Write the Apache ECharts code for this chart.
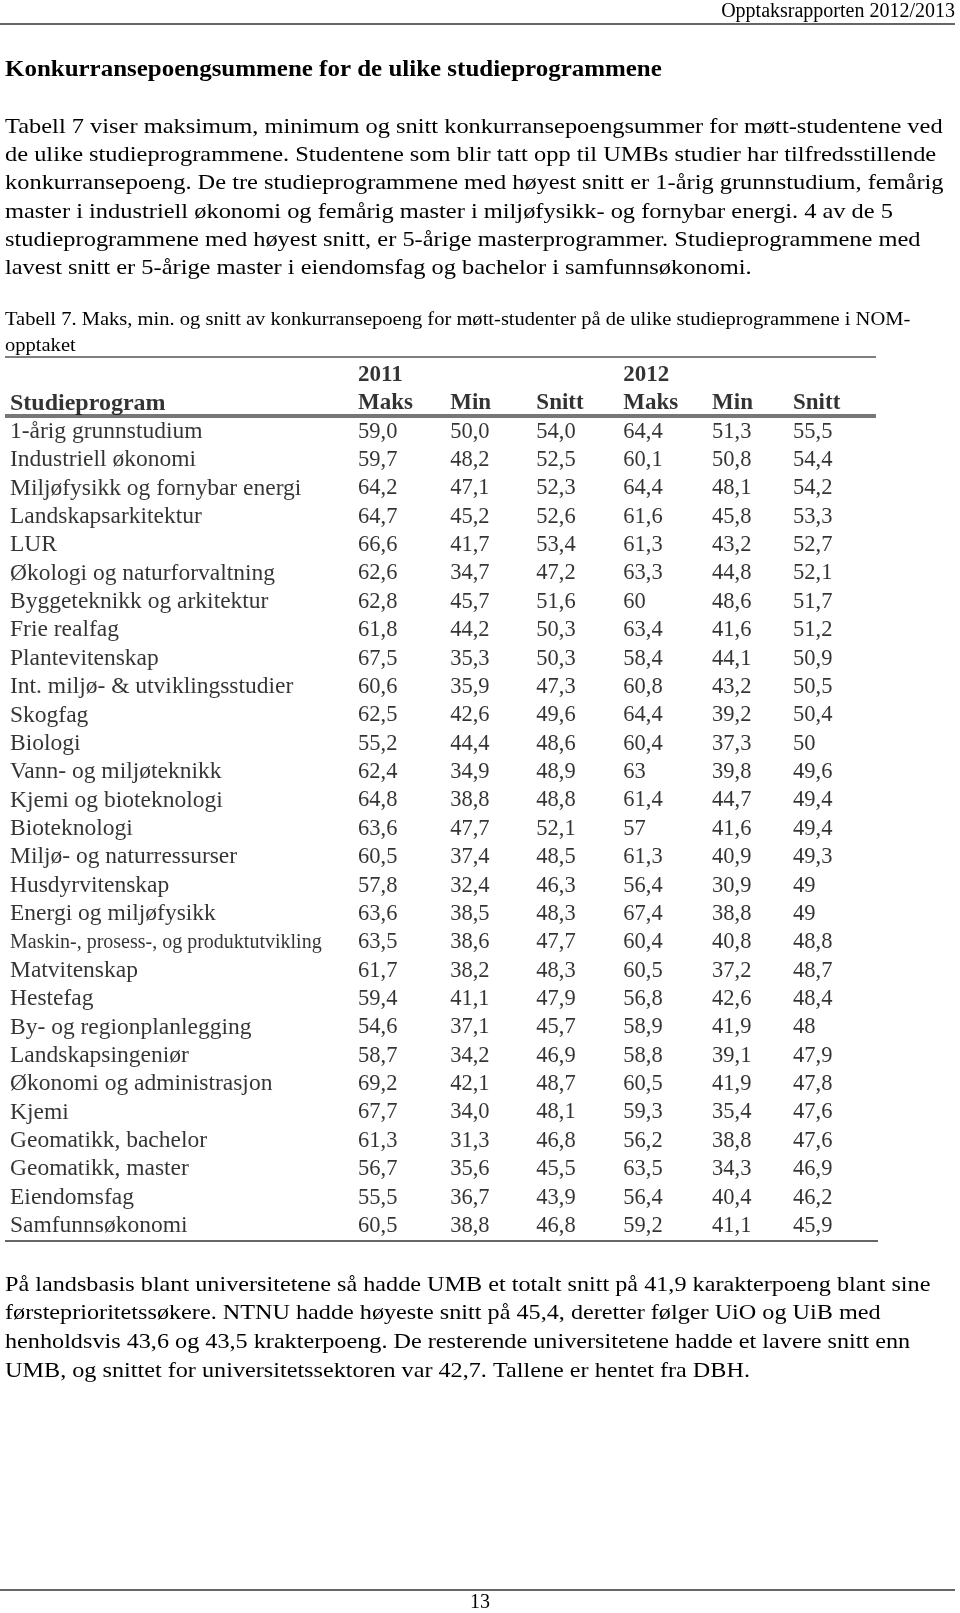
<!DOCTYPE html>
<html>
<head>
<meta charset="utf-8">
<script src="https://cdn.jsdelivr.net/npm/echarts@6/dist/echarts.min.js"></script>
<style>
  html, body { margin: 0; padding: 0; background: #fff; }
  #chart { width: 960px; height: 1613px; }
</style>
</head>
<body>
<div id="chart"></div>
<script>
// table data
var programs = [
  '1-årig grunnstudium', 'Industriell økonomi', 'Miljøfysikk og fornybar energi',
  'Landskapsarkitektur', 'LUR', 'Økologi og naturforvaltning', 'Byggeteknikk og arkitektur',
  'Frie realfag', 'Plantevitenskap', 'Int. miljø- & utviklingsstudier', 'Skogfag', 'Biologi',
  'Vann- og miljøteknikk', 'Kjemi og bioteknologi', 'Bioteknologi', 'Miljø- og naturressurser',
  'Husdyrvitenskap', 'Energi og miljøfysikk', 'Maskin-, prosess-, og produktutvikling',
  'Matvitenskap', 'Hestefag', 'By- og regionplanlegging', 'Landskapsingeniør',
  'Økonomi og administrasjon', 'Kjemi', 'Geomatikk, bachelor', 'Geomatikk, master',
  'Eiendomsfag', 'Samfunnsøkonomi'
]
var maks2011 = ['59,0','59,7','64,2','64,7','66,6','62,6','62,8','61,8','67,5','60,6','62,5','55,2','62,4','64,8','63,6','60,5','57,8','63,6','63,5','61,7','59,4','54,6','58,7','69,2','67,7','61,3','56,7','55,5','60,5']
var min2011 = ['50,0','48,2','47,1','45,2','41,7','34,7','45,7','44,2','35,3','35,9','42,6','44,4','34,9','38,8','47,7','37,4','32,4','38,5','38,6','38,2','41,1','37,1','34,2','42,1','34,0','31,3','35,6','36,7','38,8']
var snitt2011 = ['54,0','52,5','52,3','52,6','53,4','47,2','51,6','50,3','50,3','47,3','49,6','48,6','48,9','48,8','52,1','48,5','46,3','48,3','47,7','48,3','47,9','45,7','46,9','48,7','48,1','46,8','45,5','43,9','46,8']
var maks2012 = ['64,4','60,1','64,4','61,6','61,3','63,3','60','63,4','58,4','60,8','64,4','60,4','63','61,4','57','61,3','56,4','67,4','60,4','60,5','56,8','58,9','58,8','60,5','59,3','56,2','63,5','56,4','59,2']
var min2012 = ['51,3','50,8','48,1','45,8','43,2','44,8','48,6','41,6','44,1','43,2','39,2','37,3','39,8','44,7','41,6','40,9','30,9','38,8','40,8','37,2','42,6','41,9','39,1','41,9','35,4','38,8','34,3','40,4','41,1']
var snitt2012 = ['55,5','54,4','54,2','53,3','52,7','52,1','51,7','51,2','50,9','50,5','50,4','50','49,6','49,4','49,4','49,3','49','49','48,8','48,7','48,4','48','47,9','47,8','47,6','47,6','46,9','46,2','45,9']
var years = ['2011', '2012']
var colHeaders = ['Studieprogram', 'Maks', 'Min', 'Snitt', 'Maks', 'Min', 'Snitt']

var title = 'Konkurransepoengsummene for de ulike studieprogrammene'
var pageHeader = 'Opptaksrapporten 2012/2013'
var intro = [
  'Tabell 7 viser maksimum, minimum og snitt konkurransepoengsummer for møtt-studentene ved',
  'de ulike studieprogrammene. Studentene som blir tatt opp til UMBs studier har tilfredsstillende',
  'konkurransepoeng. De tre studieprogrammene med høyest snitt er 1-årig grunnstudium, femårig',
  'master i industriell økonomi og femårig master i miljøfysikk- og fornybar energi. 4 av de 5',
  'studieprogrammene med høyest snitt, er 5-årige masterprogrammer. Studieprogrammene med',
  'lavest snitt er 5-årige master i eiendomsfag og bachelor i samfunnsøkonomi.'
]
var caption = [
  'Tabell 7. Maks, min. og snitt av konkurransepoeng for møtt-studenter på de ulike studieprogrammene i NOM-',
  'opptaket'
]
var outro = [
  'På landsbasis blant universitetene så hadde UMB et totalt snitt på 41,9 karakterpoeng blant sine',
  'førsteprioritetssøkere. NTNU hadde høyeste snitt på 45,4, deretter følger UiO og UiB med',
  'henholdsvis 43,6 og 43,5 krakterpoeng. De resterende universitetene hadde et lavere snitt enn',
  'UMB, og snittet for universitetssektoren var 42,7. Tallene er hentet fra DBH.'
]
var pageNo = '13'

var serif = '"Liberation Serif", "DejaVu Serif", serif'
var bodySize = 22
// the original is set in a Garamond, which runs wider than Liberation Serif
var stretch = 1.11

// rows of the table: year row, header row, then one row per program
var rowKeys = ['year', 'head'].concat(programs)
// x position of each column on the value axis (program name column is wide)
var colX = [0, 4, 5.06, 6.05, 7.05, 8.07, 9]
var valueCols = [maks2011, min2011, snitt2011, maks2012, min2012, snitt2012]

function cellSeries(name, items, size, bold) {
  return {
    name: name,
    type: 'scatter',
    symbolSize: 0,
    silent: true,
    animation: false,
    data: items,
    label: {
      show: true,
      position: 'right',
      distance: 0,
      color: '#000',
      fontFamily: serif,
      fontSize: size,
      fontWeight: bold ? 'bold' : 'normal',
      formatter: function (p) { return p.data.text }
    },
    labelLayout: { hideOverlap: false }
  }
}

var series = []
// year labels above the Maks columns
series.push(cellSeries('years', [
  { value: [colX[1], 'year'], text: years[0] },
  { value: [colX[4], 'year'], text: years[1] }
], 23, true))
// column headers
series.push(cellSeries('headers', colHeaders.map(function (h, i) {
  var item = { value: [colX[i], 'head'], text: h }
  if (i === 0) item.label = { fontSize: 24 }
  return item
}), 23, true))
// program names
series.push(cellSeries('programs', programs.map(function (p) {
  var item = { value: [colX[0], p], text: p }
  if (p.length > 32) item.label = { fontSize: 20 }
  return item
}), 23.5, false))
// number columns
valueCols.forEach(function (col, c) {
  series.push(cellSeries('col' + c, col.map(function (v, r) {
    return { value: [colX[c + 1], programs[r]], text: v }
  }), 22.5, false))
})

function textEl(str, x, y, opt) {
  opt = opt || {}
  return {
    type: 'text', x: x, y: y, silent: true,
    scaleX: opt.scaleX || 1,
    style: {
      text: str,
      fill: '#000',
      font: (opt.weight || 'normal') + ' ' + (opt.size || bodySize) + 'px ' + serif,
      textAlign: opt.align || 'left',
      textVerticalAlign: 'middle'
    }
  }
}
function lineEl(x1, x2, y, w, color) {
  return {
    type: 'line', silent: true,
    shape: { x1: x1, y1: y, x2: x2, y2: y },
    style: { stroke: color || '#555', lineWidth: w }
  }
}

var graphics = []
graphics.push(textEl(pageHeader, 955, 12, { size: 20, align: 'right' }))
graphics.push(lineEl(0, 955, 24, 2, '#666'))
graphics.push(textEl(title, 5, 70, { size: 24, weight: 'bold', scaleX: 1.04 }))
intro.forEach(function (l, i) { graphics.push(textEl(l, 5, 127 + i * 28.3, { scaleX: stretch })) })
caption.forEach(function (l, i) { graphics.push(textEl(l, 5, 320 + i * 26, { size: 18.5, scaleX: stretch })) })
graphics.push(lineEl(5, 876, 357, 1.5, '#555'))
graphics.push(lineEl(5, 876, 416, 4, '#777'))
graphics.push(lineEl(5, 878, 1241, 2, '#666'))
outro.forEach(function (l, i) { graphics.push(textEl(l, 5, 1285 + i * 28.7, { scaleX: 1.1 })) })
graphics.push(lineEl(0, 955, 1590, 2, '#666'))
graphics.push(textEl(pageNo, 480, 1603, { size: 20, align: 'center' }))

var chart = echarts.init(document.getElementById('chart'))
chart.setOption({
  animation: false,
  grid: { left: 10, width: 783, top: 375, height: 851 },
  xAxis: { type: 'value', min: 0, max: 9, show: false },
  yAxis: { type: 'category', data: rowKeys, inverse: true, boundaryGap: false, show: false },
  series: series,
  graphic: graphics
})
</script>
</body>
</html>
